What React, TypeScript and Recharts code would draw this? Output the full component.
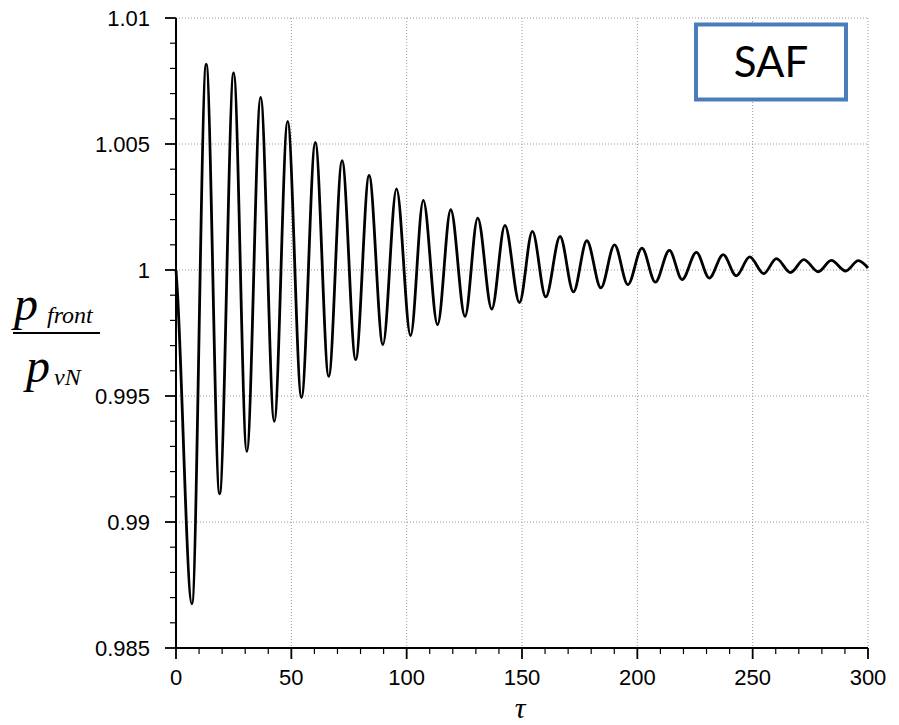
import { CartesianGrid, Line, LineChart, XAxis, YAxis } from "recharts"

// extrema of the pressure ratio vs tau
const tau = [
  0, 0.5, 6.9, 13.1, 18.9, 25.0, 30.7, 36.7, 42.6, 48.4, 54.4, 60.4, 66.2, 72.0, 77.9, 83.7, 89.7, 95.6,
  101.7, 107.2, 113.4, 119.1, 125.3, 130.8, 136.9, 142.6, 148.9, 154.5, 160.3, 166.5, 172.3, 178.1,
  184.2, 190.1, 195.9, 202.0, 207.8, 213.9, 219.4, 225.6, 231.2, 237.2, 242.9, 248.7, 254.8, 260.3,
  266.4, 272.2, 278.4, 284.1, 290.3, 295.8, 300,
]
const ratio = [
  1.0, 0.9993, 0.98676, 1.00817, 0.99112, 1.00782, 0.9928, 1.00685, 0.99399, 1.0059, 0.99494, 1.00506,
  0.99578, 1.00434, 0.99644, 1.00375, 0.99704, 1.00322, 0.9974, 1.00276, 0.99783, 1.00239, 0.99816,
  1.00206, 0.99845, 1.00177, 0.99871, 1.00153, 0.99893, 1.00133, 0.99913, 1.00116, 0.99929, 1.001,
  0.99942, 1.00087, 0.99952, 1.00078, 0.99962, 1.0007, 0.99968, 1.00061, 0.99977, 1.00052, 0.99986,
  1.00045, 0.9999, 1.00041, 0.99993, 1.00038, 0.99996, 1.00037, 1.00008,
]

const xMajorTicks = [0, 50, 100, 150, 200, 250, 300]
const yMajorTicks = [0.985, 0.99, 0.995, 1, 1.005, 1.01]

const xTicks = Array.from({ length: 31 }, (_, i) => i * 10)
const yTicks = Array.from({ length: 26 }, (_, i) => (985 + i) / 1000)

const data = tau.map((t, i) => ({ tau: t, ratio: ratio[i] }))

const tickFont = "'Liberation Sans', Arial, sans-serif"
const isMajor = (list: number[], v: number) => list.some((m) => Math.abs(m - v) < 1e-9)

function XTick({ x, y, payload }: any) {
  const major = isMajor(xMajorTicks, payload.value)
  return (
    <g>
      <line x1={x} x2={x} y1={y} y2={y + (major ? 11 : 6)} stroke="#000" strokeWidth={major ? 1.8 : 1.2} />
      {major && (
        <text x={x} y={y + 37} textAnchor="middle" fontSize={22} fontFamily={tickFont} fill="#000">
          {payload.value}
        </text>
      )}
    </g>
  )
}

function YTick({ x, y, payload }: any) {
  const major = isMajor(yMajorTicks, payload.value)
  return (
    <g>
      <line x1={x - (major ? 11 : 6)} x2={x} y1={y} y2={y} stroke="#000" strokeWidth={major ? 1.8 : 1.2} />
      {major && (
        <text x={x - 26} y={y} dy="0.36em" textAnchor="end" fontSize={22} fontFamily={tickFont} fill="#000">
          {payload.value}
        </text>
      )}
    </g>
  )
}

export default function App() {
  return (
    <div style={{ position: "absolute", left: 0, top: 0, width: 899, height: 725, background: "#fff" }}>
      <LineChart width={899} height={725} data={data} margin={{ top: 18, right: 31, bottom: 37, left: 66 }}>
        <CartesianGrid
          horizontalValues={yMajorTicks}
          verticalValues={xMajorTicks}
          stroke="#9a9a9a"
          strokeDasharray="1 2"
        />
        <XAxis
          dataKey="tau"
          type="number"
          domain={[0, 300]}
          ticks={xTicks}
          interval={0}
          tickSize={0}
          tickMargin={0}
          tickLine={false}
          height={40}
          axisLine={{ stroke: "#000", strokeWidth: 2 }}
          tick={<XTick />}
        />
        <YAxis
          type="number"
          domain={[0.985, 1.01]}
          ticks={yTicks}
          interval={0}
          tickSize={0}
          tickMargin={0}
          tickLine={false}
          width={110}
          axisLine={{ stroke: "#000", strokeWidth: 2 }}
          tick={<YTick />}
        />
        <Line
          type="monotone"
          dataKey="ratio"
          stroke="#000"
          strokeWidth={2.8}
          dot={false}
          isAnimationActive={false}
        />
      </LineChart>
      <svg
        width={899}
        height={725}
        style={{ position: "absolute", left: 0, top: 0, pointerEvents: "none" }}
      >
        <g fontFamily="'Liberation Serif', 'Times New Roman', serif" fontStyle="italic" fill="#000">
          <text x={14} y={320} fontSize={48}>p</text>
          <text x={47} y={323} fontSize={24}>front</text>
          <line x1={13} x2={100} y1={333} y2={333} stroke="#000" strokeWidth={2} />
          <text x={26} y={382} fontSize={48}>p</text>
          <text x={54} y={385} fontSize={24}>vN</text>
          <text x={520} y={718} fontSize={30} textAnchor="middle">τ</text>
        </g>
        <rect x={696} y={24.5} width={150} height={75} fill="#fff" stroke="#4a7ebb" strokeWidth={4} />
        <text x={771} y={77} textAnchor="middle" fontSize={42} fontFamily="Lato, 'Open Sans', sans-serif" fill="#000">
          SAF
        </text>
      </svg>
    </div>
  )
}
